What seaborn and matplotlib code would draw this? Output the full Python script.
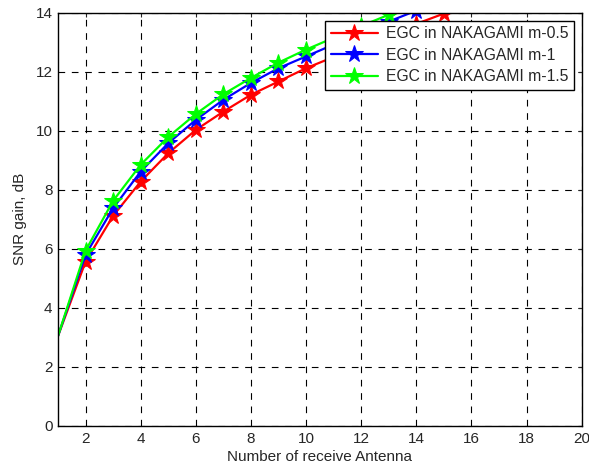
import matplotlib
matplotlib.use("Agg")
import matplotlib.pyplot as plt
import seaborn as sns
import pandas as pd

x_red = [1, 2, 3, 4, 5, 6, 7, 8, 9, 10, 11, 12, 13, 14, 15, 16]
y_red = [3.05, 5.57, 7.12, 8.28, 9.24, 10.03, 10.65, 11.22, 11.67, 12.12, 12.5, 12.88, 13.25, 13.62, 13.97, 14.3]
x_blue = [1, 2, 3, 4, 5, 6, 7, 8, 9, 10, 11, 12, 13, 14, 15]
y_blue = [3.05, 5.8, 7.38, 8.62, 9.58, 10.37, 11.05, 11.62, 12.12, 12.52, 12.92, 13.3, 13.7, 14.07, 14.4]
x_green = [1, 2, 3, 4, 5, 6, 7, 8, 9, 10, 11, 12, 13, 14]
y_green = [3.05, 5.94, 7.63, 8.85, 9.79, 10.57, 11.24, 11.79, 12.31, 12.75, 13.15, 13.55, 13.93, 14.3]
labels = ["EGC in NAKAGAMI m-0.5", "EGC in NAKAGAMI m-1", "EGC in NAKAGAMI m-1.5"]
colors = ["#ff0000", "#0000ff", "#00ff00"]
xticks = [2, 4, 6, 8, 10, 12, 14, 16, 18, 20]
yticks = [0, 2, 4, 6, 8, 10, 12, 14]

sns.set_style("white")
plt.rcParams['font.family'] = ['Liberation Sans', 'DejaVu Sans']

fig = plt.figure(figsize=(5.89, 4.67), dpi=100)
ax = fig.add_axes([0.0985, 0.0878, 0.889, 0.885])

series = [(x_red, y_red), (x_blue, y_blue), (x_green, y_green)]
for (xs, ys), lab, col in zip(series, labels, colors):
    df = pd.DataFrame({"x": xs, "y": ys})
    sns.lineplot(data=df, x="x", y="y", ax=ax, color=col, label=lab,
                 marker="*", markersize=13, markevery=list(range(1, len(xs))),
                 linewidth=1.6, markeredgecolor=col, markerfacecolor=col)

ax.set_xlim(1, 20)
ax.set_ylim(0, 14)
ax.set_xticks(xticks)
ax.set_yticks(yticks)
ax.grid(True, color="black", linestyle=(0, (6, 6)), linewidth=0.8)
ax.tick_params(direction="in", top=True, right=True, length=3, labelsize=11, width=0.8, pad=4)
for s in ax.spines.values():
    s.set_color("black")
    s.set_linewidth(1.0)
ax.set_xlabel("Number of receive Antenna", fontsize=11, labelpad=3)
ax.set_ylabel("SNR gain, dB", fontsize=11, labelpad=6)
leg = ax.legend(loc="upper right", fontsize=11.3, frameon=True, fancybox=False,
                edgecolor="black", framealpha=1, borderpad=0.35, labelspacing=0.42,
                handlelength=3.0, handletextpad=0.5, borderaxespad=0.5)
leg.get_frame().set_linewidth(1.0)

fig.savefig("out.png", dpi=100)
